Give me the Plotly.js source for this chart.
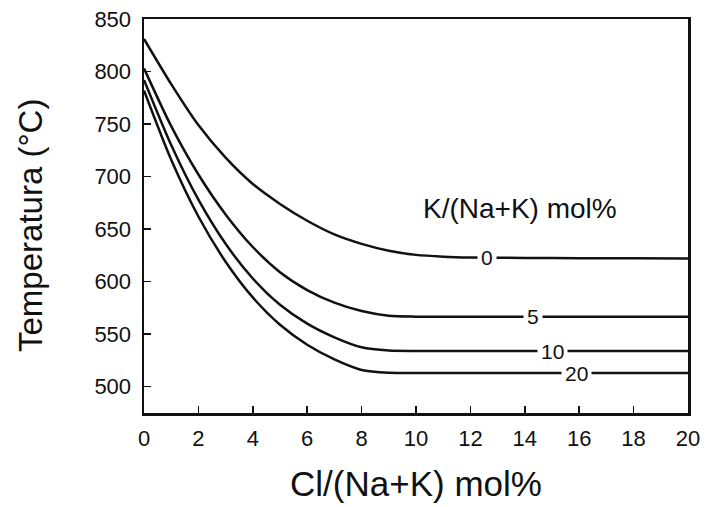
<!DOCTYPE html>
<html>
<head>
<meta charset="utf-8">
<script src="https://cdn.plot.ly/plotly-3.0.1.min.js"></script>
<style>html,body{margin:0;padding:0;background:#fff;}#chart{width:709px;height:507px;}</style>
</head>
<body>
<div id="chart"></div>
<script>
// Cl/(Na+K) mol%
const clValues = [0, 1, 2, 3, 4, 5, 6, 7, 8, 9, 10, 11, 12, 14, 16, 18, 20];
// Temperature (°C) per K/(Na+K) mol%
const temp_K0  = [831, 788, 749, 718, 693, 674, 658, 645, 636, 629.5, 625.5, 623.8, 623, 622.6, 622.4, 622.2, 622];
const temp_K5  = [803, 748, 702, 664, 633, 609, 592, 580, 572, 567.5, 566.7, 566.5, 566.5, 566.5, 566.5, 566.5, 566.5];
const temp_K10 = [792, 730, 678, 636, 603, 578, 560, 547, 537.5, 534.4, 534, 534, 534, 534, 534, 534, 534];
const temp_K20 = [782, 716, 662, 619, 585, 559, 540, 526, 516, 513.3, 513, 513, 513, 513, 513, 513, 513];
const seriesNames = ["0", "5", "10", "20"];
const labelX = [12.6, 14.3, 15.0, 15.9];
const labelY = [623, 566.5, 534, 513];
const xTicks = [0, 2, 4, 6, 8, 10, 12, 14, 16, 18, 20];
const yTicks = [500, 550, 600, 650, 700, 750, 800, 850];

const allSeries = [temp_K0, temp_K5, temp_K10, temp_K20];
const font = "Liberation Sans, Arial, Helvetica, sans-serif";

// plot area in pixels (for placing free text in paper coords)
const L = 144, R = 688, T = 19, B = 413;
const px = x => (x - L) / (R - L);
const py = y => (B - y) / (B - T);

const traces = allSeries.map((ys, i) => ({
  x: clValues, y: ys, type: "scatter", mode: "lines", name: seriesNames[i],
  line: {color: "#111", width: 2.5, shape: "spline", smoothing: 0.7},
  hoverinfo: "skip", showlegend: false
}));

const annotations = seriesNames.map((n, i) => ({
  x: labelX[i], y: labelY[i], xref: "x", yref: "y", text: n, showarrow: false,
  xanchor: "center", yanchor: "middle",
  bgcolor: "#fff", borderpad: 3, font: {family: font, size: 21, color: "#111"}
}));
annotations.push({
  x: px(520), y: py(208), xref: "paper", yref: "paper", text: "K/(Na+K) mol%", showarrow: false,
  xanchor: "center", yanchor: "middle",
  font: {family: font, size: 28, color: "#111"}
});
annotations.push({
  x: px(30), y: py(226), xref: "paper", yref: "paper", text: "Temperatura (°C)", showarrow: false,
  xanchor: "center", yanchor: "middle", textangle: -90,
  font: {family: font, size: 33, color: "#111"}
});

const layout = {
  width: 709, height: 507,
  margin: {l: L, r: 709 - R, t: T, b: 507 - B},
  paper_bgcolor: "#fff", plot_bgcolor: "#fff",
  font: {family: font, color: "#111"},
  showlegend: false,
  xaxis: {
    range: [0, 20], tickvals: xTicks, ticktext: xTicks.map(String),
    ticks: "inside", ticklen: 7, tickwidth: 1.5, tickcolor: "#111",
    showline: true, linewidth: 2.5, linecolor: "#111", mirror: true,
    showgrid: false, zeroline: false,
    tickfont: {family: font, size: 22, color: "#111"},
    ticklabelstandoff: 4,
    title: {text: "Cl/(Na+K) mol%", font: {family: font, size: 35, color: "#111"}, standoff: 22}
  },
  yaxis: {
    range: [475, 850], tickvals: yTicks, ticktext: yTicks.map(String),
    ticks: "inside", ticklen: 7, tickwidth: 1.5, tickcolor: "#111",
    showline: true, linewidth: 2.5, linecolor: "#111", mirror: true,
    showgrid: false, zeroline: false,
    tickfont: {family: font, size: 22, color: "#111"},
    ticklabelstandoff: 6
  },
  annotations: annotations
};

Plotly.newPlot("chart", traces, layout, {staticPlot: true, displayModeBar: false});
</script>
</body>
</html>
